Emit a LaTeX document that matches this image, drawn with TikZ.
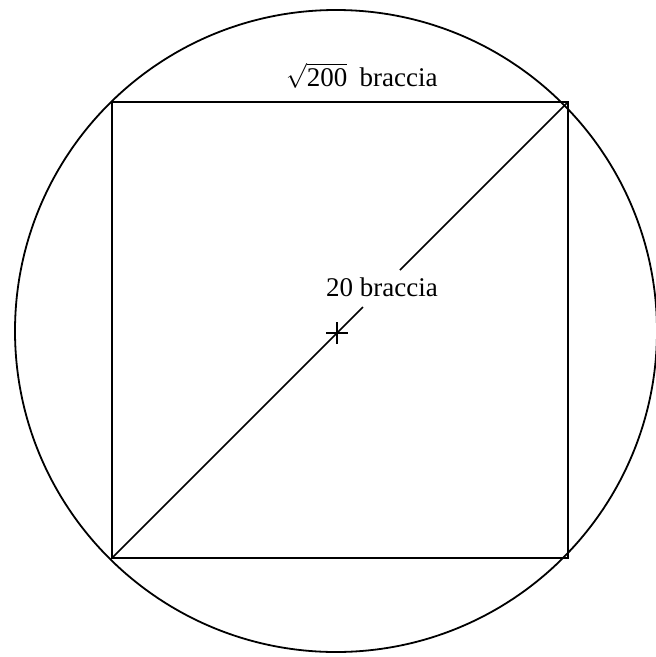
\documentclass[tikz,border=0pt]{standalone}
\usepackage{fontspec}
\setmainfont{Liberation Serif}
\begin{document}
\begin{tikzpicture}[x=1pt,y=-1pt,
  lbl/.style={anchor=base west, inner sep=0pt, font=\fontsize{27}{32}\selectfont},
  rim/.style={line width=1.8pt},
  side/.style={line width=2.2pt},
  diag/.style={line width=1.5pt}]
\useasboundingbox (0,0) rectangle (656,657);
\coordinate (O) at (336,331);
\coordinate (TL) at (112,102);
\coordinate (TR) at (568,102);
\coordinate (BR) at (568,558);
\coordinate (BL) at (112,558);
\coordinate (G1) at (363,307);
\coordinate (G2) at (400,270);
\coordinate (C) at (337,333);
\draw[rim] (O) circle [radius=321pt];
\draw[side] (TL) -- (TR) -- (BR) -- (BL) -- cycle;
\draw[diag] (BL) -- (G1);
\draw[diag] (G2) -- (TR);
\draw[line width=1.5pt] ([yshift=-11pt]C) -- ([yshift=11pt]C);
\draw[line width=1.5pt] ([xshift=-11pt]C) -- ([xshift=11pt]C);
\node[lbl] (sidelbl) at (286,86) {$\sqrt{\hbox{200}}$\hspace{0.45em}braccia};
\node[lbl] (diamlbl) at (326,296) {20 braccia};
\end{tikzpicture}
\end{document}
